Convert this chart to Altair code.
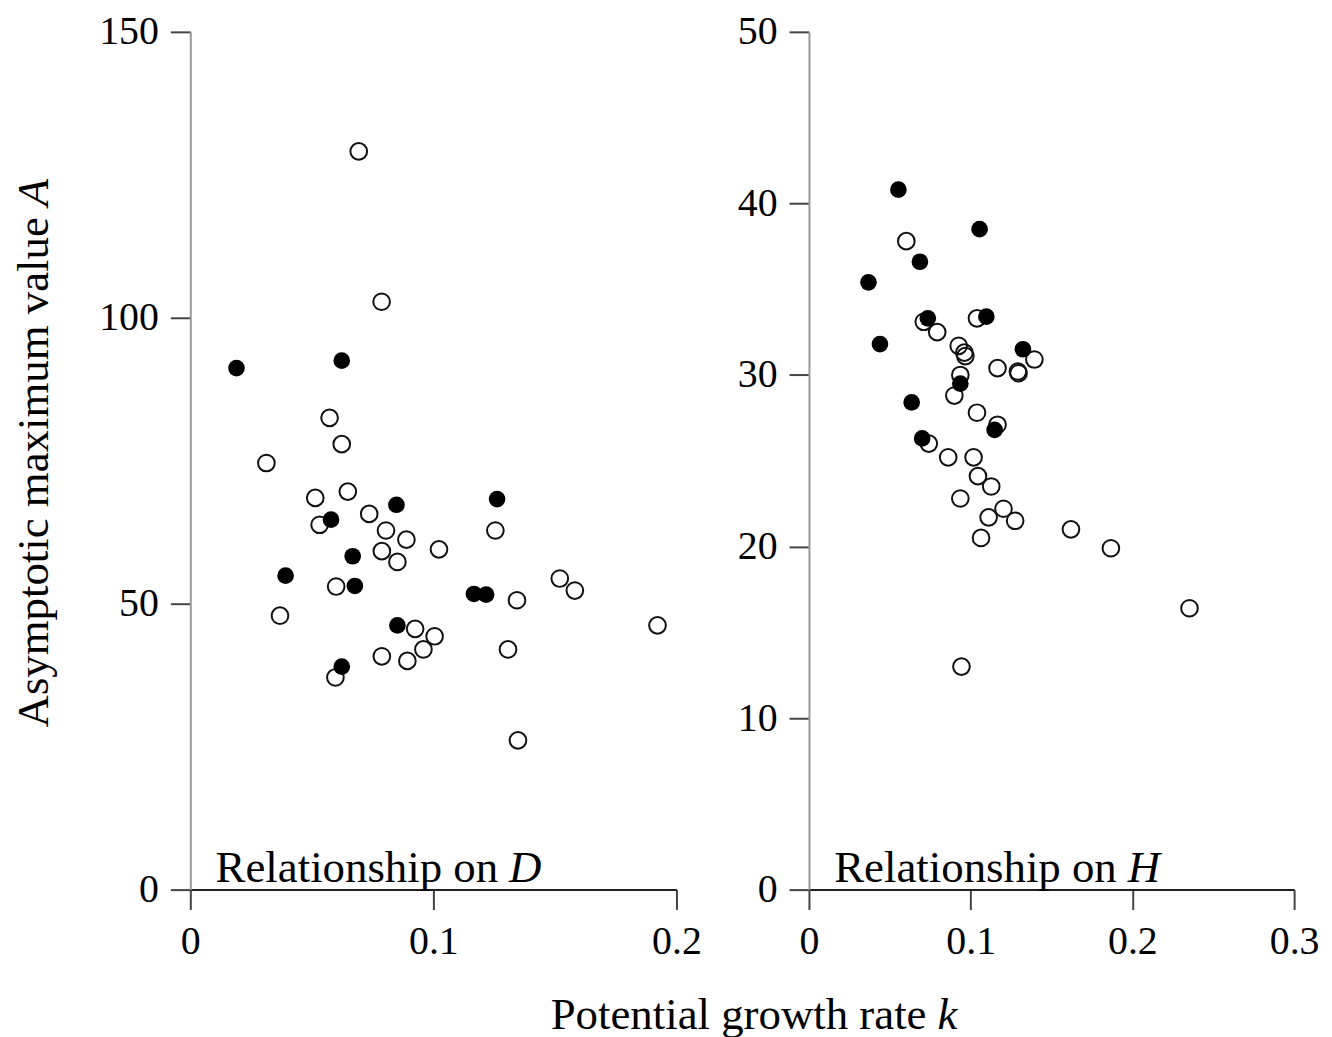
import altair as alt
import pandas as pd

# ---- data ----
d_filled_k = [0.0190, 0.0623, 0.0579, 0.0848, 0.1262, 0.0668, 0.0392, 0.0677, 0.1167, 0.1217, 0.0852, 0.0623]
d_filled_A = [91.2, 92.5, 64.7, 67.3, 68.3, 58.3, 54.9, 53.1, 51.7, 51.6, 46.2, 39.0]

d_open_k = [0.0693, 0.0787, 0.0573, 0.0623, 0.0313, 0.0514, 0.0648, 0.0736, 0.0532, 0.0805,
            0.1255, 0.0889, 0.1023, 0.0788, 0.0852, 0.0600, 0.1520, 0.1582, 0.1344, 0.0369,
            0.1922, 0.0925, 0.1005, 0.0959, 0.1307, 0.0788, 0.0893, 0.0597, 0.1348]
d_open_A = [129.1, 102.8, 82.5, 77.9, 74.6, 68.5, 69.6, 65.7, 63.8, 62.8,
            62.8, 61.2, 59.5, 59.2, 57.3, 53.0, 54.4, 52.3, 50.6, 47.9,
            46.2, 45.6, 44.3, 42.0, 42.0, 40.8, 40.0, 37.1, 26.1]

h_filled_k = [0.0553, 0.1055, 0.0686, 0.0368, 0.0735, 0.1097, 0.0439, 0.1323, 0.0936, 0.0635, 0.1148, 0.0700]
h_filled_A = [40.8, 38.5, 36.6, 35.4, 33.3, 33.4, 31.8, 31.5, 29.5, 28.4, 26.8, 26.3]

h_open_k = [0.0602, 0.0710, 0.0793, 0.1039, 0.0926, 0.0961, 0.0967, 0.1166, 0.1292, 0.1296,
            0.1394, 0.0936, 0.0899, 0.1039, 0.1166, 0.0741, 0.0861, 0.1018, 0.1045, 0.1127,
            0.0936, 0.1203, 0.1111, 0.1275, 0.1064, 0.1620, 0.1867, 0.2353, 0.0943]
h_open_A = [37.8, 33.1, 32.5, 33.3, 31.7, 31.3, 31.1, 30.4, 30.2, 30.1,
            30.9, 30.0, 28.8, 27.8, 27.1, 26.0, 25.2, 25.2, 24.1, 23.5,
            22.8, 22.2, 21.7, 21.5, 20.5, 21.0, 19.9, 16.4, 13.0]

d_y_ticks = [0, 50, 100, 150]
d_x_ticks = [0, 0.1, 0.2]
h_y_ticks = [0, 10, 20, 30, 40, 50]
h_x_ticks = [0, 0.1, 0.2, 0.3]

panel_text = ["Relationship on", "Relationship on"]
panel_var = ["D", "H"]
x_title = ["Potential growth rate", "k"]
y_title = ["Asymptotic maximum value", "A"]

FONT = "Liberation Serif"
W, H = 488, 861
TICK_FS = 40
TXT_FS = 45
SIZE = 280


def axis(vals, dom_color, fmt=None):
    kw = dict(values=vals, tickSize=20, tickWidth=2, tickColor="#444",
              domainColor=dom_color, domainWidth=2, grid=False,
              labelFont=FONT, labelFontSize=TICK_FS, labelColor="#000",
              labelPadding=12, title=None, labelFlush=False)
    if fmt:
        kw["format"] = fmt
    return alt.Axis(**kw)


def txt(s, x, y, italic=False, align="left", angle=0):
    m = alt.Chart(pd.DataFrame({"t": [s]})).mark_text(
        font=FONT, fontSize=TXT_FS, fontStyle="italic" if italic else "normal",
        align=align, baseline="alphabetic", color="#000", angle=angle)
    return m.encode(text="t:N", x=alt.value(x), y=alt.value(y))


def panel(ok, oA, fk, fA, xmax, ymax, xt, yt, idx):
    xs = alt.Scale(domain=[0, xmax], nice=False, zero=True)
    ys = alt.Scale(domain=[0, ymax], nice=False)
    xenc = alt.X("k:Q", scale=xs, axis=axis(xt, "#222", "~g"))
    yenc = alt.Y("A:Q", scale=ys, axis=axis(yt, "#999"))
    op = alt.Chart(pd.DataFrame({"k": ok, "A": oA})).mark_point(
        shape="circle", size=SIZE, filled=False, stroke="#111", strokeWidth=2, opacity=1
    ).encode(x=xenc, y=yenc)
    fp = alt.Chart(pd.DataFrame({"k": fk, "A": fA})).mark_point(
        shape="circle", size=SIZE, filled=True, fill="#000", opacity=1
    ).encode(x=xenc, y=yenc)
    layers = [op, fp,
              txt(panel_text[idx], 309, 853, align="right"),
              txt(panel_var[idx], 320, 853, italic=True)]
    return layers


left_layers = panel(d_open_k, d_open_A, d_filled_k, d_filled_A, 0.2, 150, d_x_ticks, d_y_ticks, 0)
left_layers += [
    txt(y_title[0], -143, 186, align="right", angle=270),
    txt(y_title[1], -143, 175, italic=True, angle=270),
    txt(x_title[0], 739, 1001, align="right"),
    txt(x_title[1], 750, 1001, italic=True),
]
left = alt.layer(*left_layers).properties(width=W, height=H)

right_layers = panel(h_open_k, h_open_A, h_filled_k, h_filled_A, 0.3, 50, h_x_ticks, h_y_ticks, 1)
right = alt.layer(*right_layers).properties(width=487, height=H)

chart = alt.hconcat(left, right, spacing=133, bounds="flush").properties(
    padding={"left": 4, "top": 2, "right": 5, "bottom": 0}
).configure_view(stroke=None).resolve_scale(x="independent", y="independent")

chart.save("out.html", embed_options={"renderer": "svg", "actions": False})
